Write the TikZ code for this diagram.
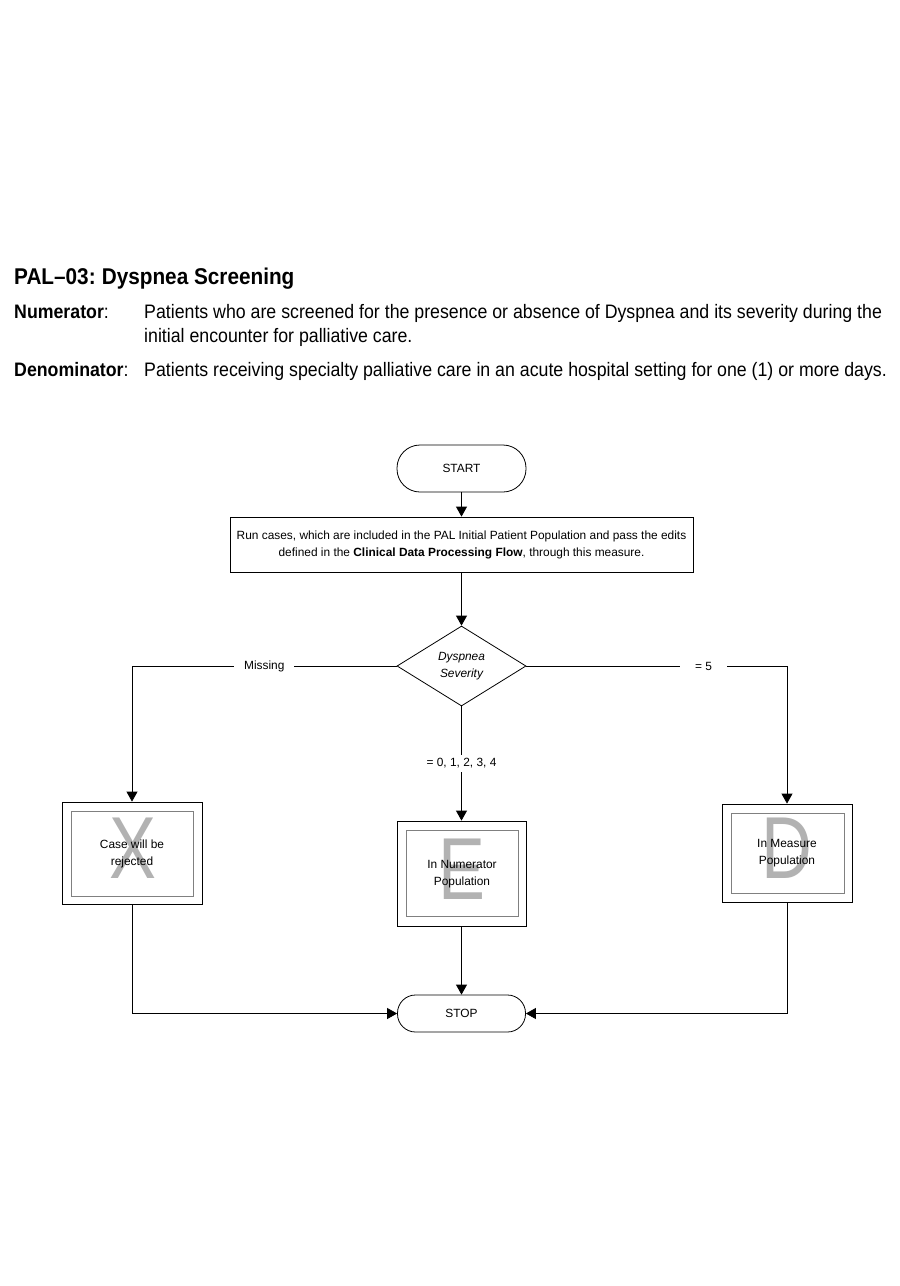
\documentclass[tikz,border=0pt]{standalone}
\usepackage{fontspec}
\setmainfont{Liberation Sans}
\newfontfamily\narrowfont[FakeStretch=0.91,Ligatures=TeX]{Liberation Sans}
\newfontfamily\letterfont[FakeStretch=0.8]{Liberation Sans}
\usetikzlibrary{shapes.geometric,arrows.meta}
\begin{document}
\begin{tikzpicture}[x=1pt,y=-1pt,
  every node/.style={font=\fontsize{11.9}{17}\selectfont, inner sep=0pt},
  ln/.style={line width=0.8pt, draw=black},
  arr/.style={ln, -{Triangle[length=10pt,width=11pt]}},
  term/.style={draw, line width=0.8pt, rectangle, rounded corners=18pt, align=center},
  procbox/.style={draw, line width=0.8pt, rectangle, align=center},
  outerbox/.style={draw, line width=0.8pt, rectangle},
  innerbox/.style={draw=black!50, line width=1pt, rectangle},
  bigletter/.style={text=black!30, font=\letterfont\fontsize{88}{88}\selectfont},
  txt/.style={align=center},
  lbl/.style={fill=white, inner xsep=10pt, inner ysep=2pt},
  hdr/.style={anchor=base west, font=\narrowfont\fontsize{19.5}{22}\selectfont}
]
\path[use as bounding box] (0,0) rectangle (900,1286);

% header
\node[hdr, font=\narrowfont\fontsize{22.8}{26}\selectfont\bfseries] (title) at (14,284) {PAL–03:\hspace{-1.5pt} Dyspnea Screening};
\node[hdr] (numl) at (14,318) {\textbf{Numerator}:};
\node[hdr] (numt) at (144,318) {Patients who are screened for the presence or absence of Dyspnea and its severity during the};
\node[hdr] (numt2) at (144,342) {initial encounter for palliative care.};
\node[hdr] (denl) at (14,376) {\textbf{Denominator}:};
\node[hdr] (dent) at (144,376) {Patients receiving specialty palliative care in an acute hospital setting for one (1) or more days.};

% flowchart
\node[term, minimum width=129pt, minimum height=47pt, rounded corners=23pt] (start) at (461.5,468.5) {START};
\node[procbox, minimum width=463pt, minimum height=55pt] (run) at (461.5,544.5) {Run cases, which are included in the PAL Initial Patient Population and pass the edits\\defined in the \textbf{Clinical Data Processing Flow}, through this measure.};
\node[draw, line width=0.8pt, diamond, minimum width=129pt, minimum height=80pt, align=center, font=\fontsize{11.9}{17}\selectfont\itshape] (dia) at (461.5,666) {Dyspnea\\Severity};

% left box
\node[outerbox, minimum width=140pt, minimum height=102pt] (rej) at (132,853) {};
\node[innerbox, minimum width=122pt, minimum height=85pt] (rejin) at (132,853.5) {};
\node[bigletter] (rejx) at (133,848) {X};
\node[txt] (rejt) at (132,853.5) {Case will be\\rejected};

% middle box
\node[outerbox, minimum width=129pt, minimum height=105pt] (num) at (461.5,873.5) {};
\node[innerbox, minimum width=112pt, minimum height=86pt] (numin) at (462,873) {};
\node[bigletter] (nume) at (462,869) {E};
\node[txt] (numtx) at (462,874.5) {In Numerator\\Population};

% right box
\node[outerbox, minimum width=130pt, minimum height=98pt] (dm) at (787,853) {};
\node[innerbox, minimum width=113pt, minimum height=80pt] (dmin) at (787.5,853) {};
\node[bigletter] (dmd) at (787,848) {D};
\node[txt] (dmt) at (787,853.5) {In Measure\\Population};

\node[term, minimum width=128pt, minimum height=37pt] (stop) at (461.5,1013.5) {STOP};

% connectors
\draw[arr] (start) -- (run);
\draw[arr] (run) -- (dia);
\coordinate (cl) at (rej.north |- dia.west);
\coordinate (cr) at (dm.north |- dia.east);
\draw[ln] (dia.west) -- node[lbl] {Missing} (cl);
\draw[arr] (cl) -- (rej.north);
\draw[ln] (dia.east) -- node[lbl, pos=0.68, inner xsep=15pt] {= 5} (cr);
\draw[arr] (cr) -- (dm.north);
\draw[arr] (dia.south) -- node[lbl, inner xsep=2pt, inner ysep=4pt] {= 0, 1, 2, 3, 4} (num.north);
\draw[arr] (rej.south) |- (stop.west);
\draw[arr] (dm.south) |- (stop.east);
\draw[arr] (num.south) -- (stop.north);
\end{tikzpicture}
\end{document}
